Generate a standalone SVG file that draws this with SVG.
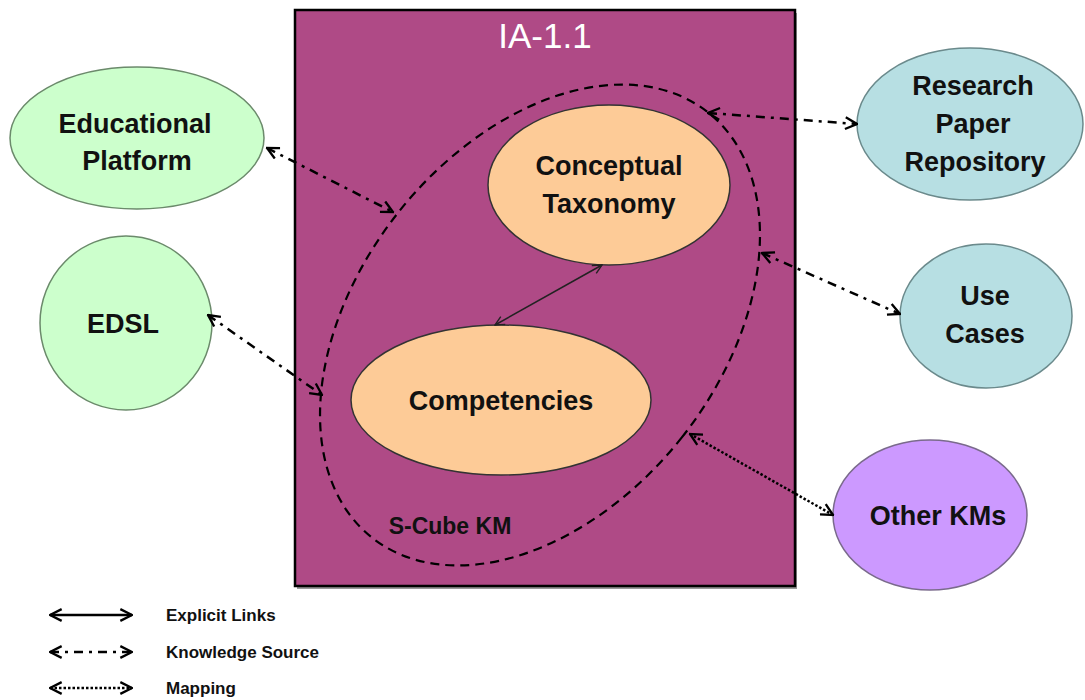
<svg xmlns="http://www.w3.org/2000/svg" width="1085" height="700" viewBox="0 0 1085 700">
<defs>
<style>
.lbl{font-family:"Liberation Sans",Arial,sans-serif;font-weight:bold;font-size:27px;fill:#111;text-anchor:middle}
.leg{font-family:"Liberation Sans",Arial,sans-serif;font-weight:bold;font-size:17px;fill:#111}
.ks{fill:none;stroke:#000;stroke-width:2.5;stroke-dasharray:9 6 3 6}
.map{fill:none;stroke:#000;stroke-width:2.5;stroke-dasharray:2.5 2}
.exp{fill:none;stroke:#000;stroke-width:2.5}
</style>
<marker id="ah" viewBox="0 0 12 12" refX="11" refY="6" markerWidth="14" markerHeight="14" markerUnits="userSpaceOnUse" orient="auto-start-reverse">
<path d="M1,1 L11,6 L1,11" fill="none" stroke="#000" stroke-width="2"/>
</marker>
<marker id="ahs" viewBox="0 0 12 12" refX="11" refY="6" markerWidth="11" markerHeight="11" markerUnits="userSpaceOnUse" orient="auto-start-reverse">
<path d="M1,1 L11,6 L1,11" fill="none" stroke="#222" stroke-width="1.5"/>
</marker>
</defs>
<rect width="1085" height="700" fill="#fff"/>
<g id="ia-box">
<rect x="297" y="13" width="500" height="576" fill="#999"/>
<rect x="295" y="10" width="500" height="576" fill="#AF4A86" stroke="#000" stroke-width="2.5"/>
<text x="545" y="48" font-family="'Liberation Sans',Arial,sans-serif" font-size="35" fill="#fff" text-anchor="middle">IA-1.1</text>
</g>
<g id="scube-km">
<ellipse cx="540" cy="325" rx="181" ry="271" transform="rotate(38.3 540 325)" fill="none" stroke="#000" stroke-width="2.2" stroke-dasharray="9 6"/>
<text x="450" y="534" class="lbl" style="font-size:23px">S-Cube KM</text>
</g>
<g id="conceptual-taxonomy">
<ellipse cx="609" cy="185" rx="121" ry="80" fill="#FDCB97" stroke="#333" stroke-width="1.5"/>
<text x="609" y="175" class="lbl">Conceptual</text>
<text x="609" y="213" class="lbl">Taxonomy</text>
</g>
<g id="competencies">
<ellipse cx="501" cy="400" rx="150" ry="75" fill="#FDCB97" stroke="#333" stroke-width="1.5"/>
<text x="501" y="410" class="lbl">Competencies</text>
</g>
<g id="educational-platform">
<ellipse cx="137" cy="138" rx="127" ry="71" fill="#CCFFCC" stroke="#6B8A6B" stroke-width="1.5"/>
<text x="135" y="133" class="lbl">Educational</text>
<text x="137" y="170" class="lbl">Platform</text>
</g>
<g id="edsl">
<ellipse cx="126" cy="323" rx="86" ry="87" fill="#CCFFCC" stroke="#6B8A6B" stroke-width="1.5"/>
<text x="123" y="333" class="lbl">EDSL</text>
</g>
<g id="research-paper-repository">
<ellipse cx="970" cy="124" rx="113" ry="76" fill="#B7DFE3" stroke="#6B8A8C" stroke-width="1.5"/>
<text x="973" y="95" class="lbl">Research</text>
<text x="973" y="133" class="lbl">Paper</text>
<text x="975" y="171" class="lbl">Repository</text>
</g>
<g id="use-cases">
<ellipse cx="986" cy="316" rx="86" ry="72" fill="#B7DFE3" stroke="#6B8A8C" stroke-width="1.5"/>
<text x="985" y="305" class="lbl">Use</text>
<text x="985" y="343" class="lbl">Cases</text>
</g>
<g id="other-kms">
<ellipse cx="930" cy="515" rx="97" ry="75" fill="#CC99FF" stroke="#7A6A8C" stroke-width="1.5"/>
<text x="938" y="525" class="lbl">Other KMs</text>
</g>
<g id="connectors">
<line x1="267" y1="148" x2="393" y2="212" class="ks" marker-start="url(#ah)" marker-end="url(#ah)"/>
<line x1="208" y1="315" x2="322" y2="395" class="ks" marker-start="url(#ah)" marker-end="url(#ah)"/>
<line x1="708" y1="113" x2="857" y2="124" class="ks" marker-start="url(#ah)" marker-end="url(#ah)"/>
<line x1="762" y1="253" x2="900" y2="314" class="ks" marker-start="url(#ah)" marker-end="url(#ah)"/>
<line x1="690" y1="434" x2="833" y2="515" class="map" marker-start="url(#ah)" marker-end="url(#ah)"/>
<line x1="602" y1="265" x2="495" y2="325" fill="none" stroke="#222" stroke-width="1.5" marker-start="url(#ahs)" marker-end="url(#ahs)"/>
</g>
<g id="legend">
<line x1="50" y1="615" x2="132" y2="615" class="exp" marker-start="url(#ah)" marker-end="url(#ah)"/>
<line x1="50" y1="652" x2="132" y2="652" class="ks" stroke-dasharray="3 6 8 6" marker-start="url(#ah)" marker-end="url(#ah)"/>
<line x1="50" y1="688" x2="132" y2="688" class="map" marker-start="url(#ah)" marker-end="url(#ah)"/>
<text x="166" y="621" class="leg">Explicit Links</text>
<text x="166" y="658" class="leg">Knowledge Source</text>
<text x="166" y="694" class="leg">Mapping</text>
</g>
</svg>
